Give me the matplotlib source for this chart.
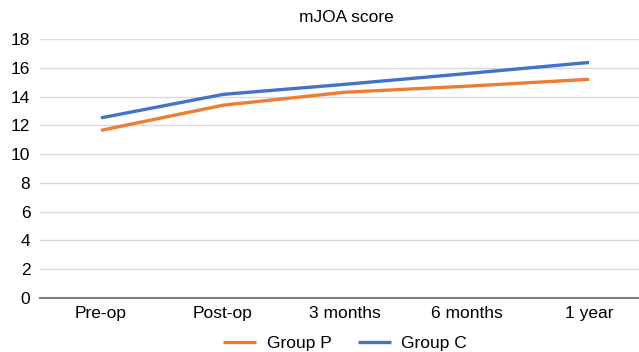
import matplotlib.pyplot as plt

plt.rcParams['font.family'] = ['Liberation Sans', 'DejaVu Sans']

categories = ['Pre-op', 'Post-op', '3 months', '6 months', '1 year']
group_p = [11.65, 13.4, 14.3, 14.72, 15.2]
group_c = [12.52, 14.15, 14.85, 15.6, 16.37]
yticks = [0, 2, 4, 6, 8, 10, 12, 14, 16, 18]

fig = plt.figure(figsize=(6.39, 3.52), dpi=100)
ax = fig.add_axes([40 / 639, 1 - 298 / 352, 610 / 639, 259 / 352])

x = range(len(categories))
ax.plot(x, group_p, color='#ED7D31', lw=2.4, label='Group P', solid_capstyle='butt')
ax.plot(x, group_c, color='#4472C4', lw=2.4, label='Group C', solid_capstyle='butt')

ax.set_xlim(-0.5, len(categories) - 0.5)
ax.set_ylim(0, 18)
ax.set_yticks(yticks)
ax.set_xticks(list(x))
ax.set_xticklabels(categories)
ax.grid(axis='y', color='#d9d9d9', lw=1)
ax.set_axisbelow(True)
for s in ['top', 'right', 'left']:
    ax.spines[s].set_visible(False)
ax.spines['bottom'].set_color('#7f7f7f')
ax.spines['bottom'].set_linewidth(1.5)
ax.tick_params(length=0, labelsize=12.5, colors='black')
ax.tick_params(axis='y', pad=7)
ax.tick_params(axis='x', pad=6)

fig.text(346 / 639, 1 - 18 / 352, 'mJOA score', ha='center', va='center', fontsize=12.5)
fig.legend(loc='center', bbox_to_anchor=(345 / 639, 1 - 343 / 352), ncol=2,
           frameon=False, fontsize=12.5, handlelength=1.9, columnspacing=1.5,
           handletextpad=0.6, borderpad=0)

fig.savefig('out.png', dpi=100)
